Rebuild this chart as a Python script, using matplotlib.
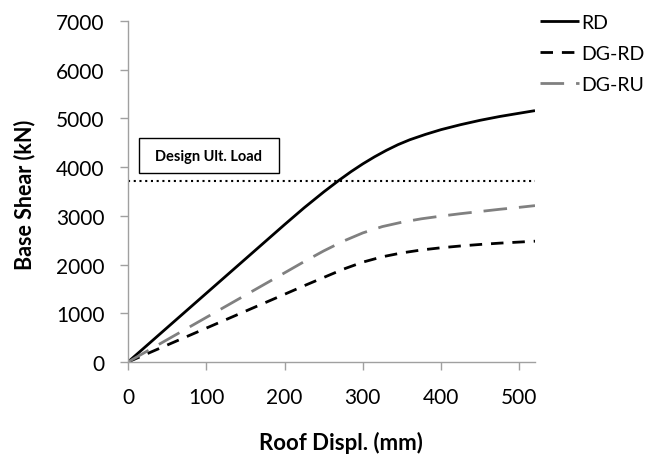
import matplotlib
matplotlib.use("Agg")
import matplotlib.pyplot as plt
from matplotlib.patches import Rectangle

plt.rcParams['font.family'] = ['Lato', 'DejaVu Sans']

# Data
rd_x = [0, 25, 50, 100, 150, 200, 225, 250, 270, 285, 300, 315, 330, 345, 360, 380, 400, 425, 450, 475, 500, 520]
rd_y = [0, 352, 705, 1410, 2115, 2820, 3165, 3490, 3735, 3908, 4067, 4212, 4344, 4462, 4562, 4672, 4770, 4872, 4962, 5040, 5107, 5160]

dgrd_x = [0, 100, 200, 225, 250, 275, 300, 325, 350, 375, 400, 425, 450, 475, 500, 520]
dgrd_y = [0, 695, 1390, 1565, 1735, 1905, 2050, 2160, 2240, 2300, 2345, 2382, 2413, 2440, 2462, 2480]

dgru_x = [0, 100, 200, 225, 250, 275, 300, 325, 350, 375, 400, 425, 450, 475, 500, 520]
dgru_y = [0, 915, 1830, 2060, 2280, 2480, 2650, 2780, 2870, 2940, 2995, 3045, 3090, 3135, 3175, 3210]

design_load = 3720
series_labels = ["RD", "DG-RD", "DG-RU"]
x_ticks = [0, 100, 200, 300, 400, 500]
y_ticks = [0, 1000, 2000, 3000, 4000, 5000, 6000, 7000]

W, H = 647, 456
fig = plt.figure(figsize=(W/100, H/100), dpi=100)
ax = fig.add_axes([128/W, 1-363/H, (535-128)/W, (363-22)/H])

lw = 2.0
ax.plot(rd_x, rd_y, color='black', lw=lw, label=series_labels[0], solid_capstyle='butt')
ax.plot(dgrd_x, dgrd_y, color='black', lw=lw, linestyle=(0, (4.5, 3.2)), label=series_labels[1])
ax.plot(dgru_x, dgru_y, color='#808080', lw=lw, linestyle=(0, (8.5, 4.3)), label=series_labels[2])
ax.axhline(design_load, color='black', lw=1.5, linestyle=(0, (1, 1.75)))

# annotation box
fig.patches.append(Rectangle((139/W, 1-174/H), 140/W, 35/H, transform=fig.transFigure,
                             facecolor='white', edgecolor='black', lw=1.0, zorder=5))
fig.text(209/W, 1-156.5/H, "Design Ult. Load", ha='center', va='center',
         fontsize=10.5, fontweight='bold', zorder=6)

ax.set_xlim(0, 520)
ax.set_ylim(0, 7000)
ax.set_xticks(x_ticks)
ax.set_yticks(y_ticks)

for s in ['top', 'right']:
    ax.spines[s].set_visible(False)
for s in ['left', 'bottom']:
    ax.spines[s].set_color('#a0a0a0')
    ax.spines[s].set_linewidth(1.0)

ax.tick_params(axis='both', colors='#a0a0a0', labelcolor='black', labelsize=15, length=5.8, width=1)
ax.tick_params(axis='x', pad=12)
ax.tick_params(axis='y', pad=11)

fig.text(341/W, 1-443/H, "Roof Displ. (mm)", ha='center', va='center', fontsize=16, fontweight='bold')
fig.text(25/W, 1-195/H, "Base Shear (kN)", ha='center', va='center', fontsize=15.5, fontweight='bold', rotation=90)

leg = fig.legend(loc='upper left', bbox_to_anchor=(540/W, 1-15/H), frameon=False,
                 fontsize=14, borderpad=0, borderaxespad=0, handlelength=2.0,
                 handletextpad=0.1, labelspacing=0.72)

fig.savefig("out.png", dpi=100)
